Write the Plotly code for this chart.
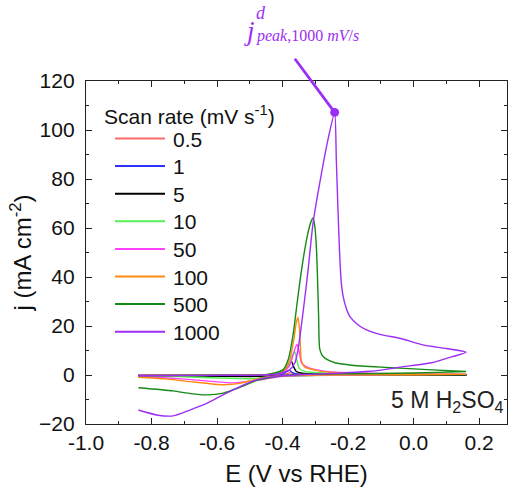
import numpy as np
import plotly.graph_objects as go

# ---------------- data ----------------
scan_rates = ["0.5", "1", "5", "10", "50", "100", "500", "1000"]
colors = ["#FF6B6B", "#3030FF", "#000000", "#55EE55", "#FF40FF", "#FF8A10", "#168A16", "#9D2EF5"]

E_05 = [-0.84, -0.6, -0.42, -0.39, -0.378, -0.37, -0.36, -0.3, 0.16, 0.16, -0.3, -0.84]
j_05 = [0.0, 0.0, 0.05, 0.4, 1.0, 0.7, 0.3, 0.1, 0.05, 0.0, 0.0, -0.05]

E_1 = [-0.84, -0.6, -0.42, -0.395, -0.385, -0.378, -0.37, -0.355, -0.3, 0.16, 0.16, -0.3, -0.45, -0.84]
j_1 = [0.0, 0.0, 0.1, 0.8, 1.6, 1.9, 1.0, 0.4, 0.2, 0.05, 0.0, 0.0, -0.2, -0.1]

E_5 = [-0.84, -0.6, -0.45, -0.4, -0.385, -0.373, -0.365, -0.358, -0.34, -0.3, 0.0, 0.16,
       0.16, -0.2, -0.4, -0.5, -0.65, -0.84]
j_5 = [-0.1, -0.05, 0.1, 1.2, 3.5, 5.5, 3.0, 1.4, 0.7, 0.4, 0.1, 0.1,
       0.0, -0.05, -0.3, -0.6, -0.4, -0.2]

E_10 = [-0.84, -0.6, -0.45, -0.395, -0.38, -0.37, -0.363, -0.356, -0.35, -0.335, -0.3, 0.0, 0.16,
        0.16, -0.2, -0.42, -0.5, -0.6, -0.72, -0.84]
j_10 = [-0.1, -0.05, 0.1, 1.5, 4.5, 8.0, 9.5, 6.0, 2.8, 1.6, 1.0, 0.3, 0.2,
        0.2, 0.0, -0.6, -1.5, -1.2, -0.6, -0.3]

E_50 = [-0.84, -0.6, -0.45, -0.40, -0.378, -0.365, -0.356, -0.35, -0.346, -0.342, -0.33, -0.317, -0.25, 0.0, 0.16,
        0.16, -0.2, -0.40, -0.47, -0.551, -0.65, -0.75, -0.84]
j_50 = [-0.1, -0.05, 0.1, 0.9, 4.0, 9.5, 12.6, 10.0, 7.0, 4.8, 3.5, 2.8, 1.2, 0.4, 0.3,
        0.3, 0.0, -0.5, -2.0, -3.2, -2.2, -1.2, -0.6]

E_100 = [-0.84, -0.6, -0.45, -0.40, -0.378, -0.365, -0.358, -0.353, -0.348, -0.345, -0.343, -0.332, -0.3, -0.277, -0.2, -0.073, 0.16,
         0.16, 0.0, -0.3, -0.42, -0.48, -0.53, -0.582, -0.683, -0.76, -0.84]
j_100 = [-0.2, -0.1, 0.1, 1.0, 6.2, 15.0, 21.5, 23.6, 18.0, 10.0, 6.2, 3.2, 2.0, 1.4, 0.8, 0.4, 0.3,
         0.3, 0.1, 0.0, -0.4, -1.7, -3.4, -4.0, -2.7, -1.6, -0.9]

E_500 = [-0.84, -0.6, -0.45, -0.399, -0.383, -0.368, -0.355, -0.342, -0.325, -0.312, -0.307, -0.301, -0.296,
         -0.293, -0.29, -0.287, -0.28, -0.271, -0.24, -0.195, -0.1, -0.043, 0.16,
         0.16, 0.0, -0.2, -0.35, -0.43, -0.48, -0.53, -0.581, -0.632, -0.68, -0.734, -0.84]
j_500 = [-0.3, -0.1, 0.1, 2.1, 6.2, 16.4, 30.0, 43.0, 56.5, 63.0, 64.1, 60.0, 50.0,
         38.0, 24.0, 11.0, 8.2, 6.9, 5.0, 4.1, 3.2, 2.8, 1.4,
         1.4, 0.8, 0.5, 0.2, -0.8, -2.3, -5.0, -7.4, -8.1, -7.6, -6.5, -5.2]

E_1000 = [-0.84, -0.7, -0.6, -0.5, -0.42, -0.38, -0.363, -0.353, -0.338, -0.322, -0.307, -0.281, -0.26, -0.241,
          -0.236, -0.231, -0.226, -0.221, -0.215, -0.205, -0.195, -0.17, -0.144, -0.1, -0.043, 0.028, 0.1, 0.16,
          0.1, 0.059, -0.043, -0.094, -0.144, -0.22, -0.287, -0.35, -0.4, -0.43, -0.48, -0.53, -0.582,
          -0.63, -0.683, -0.734, -0.785, -0.84]
j_1000 = [-0.3, -0.2, -0.1, -0.1, 0.3, 2.0, 4.8, 10.3, 25.0, 43.0, 62.0, 82.5, 97.0, 107.2,
          88.0, 68.0, 50.0, 38.0, 32.0, 27.0, 23.9, 20.5, 18.4, 16.5, 15.0, 12.3, 10.8, 9.3,
          6.8, 5.1, 3.2, 2.1, 1.4, 0.8, 0.45, 0.1, -0.3, -0.65, -2.0, -4.7, -8.1,
          -11.5, -14.3, -16.7, -16.3, -14.3]

E_data = [E_05, E_1, E_5, E_10, E_50, E_100, E_500, E_1000]
j_data = [j_05, j_1, j_5, j_10, j_50, j_100, j_500, j_1000]

x_ticks = [-1.0, -0.8, -0.6, -0.4, -0.2, 0.0, 0.2]
x_ticklabels = ["-1.0", "-0.8", "-0.6", "-0.4", "-0.2", "0.0", "0.2"]
y_ticks = [-20, 0, 20, 40, 60, 80, 100, 120]

# ---------------- layout helpers ----------------
W, H = 512, 492
L, R, T, B = 86, 5, 81, 68
PW, PH = W - L - R, H - T - B


def px_x(px):
    return (px - L) / PW


def px_y(py):
    return (H - B - py) / PH


FONT = "Arial, Liberation Sans, sans-serif"
TXT = "#111111"

fig = go.Figure()
for name, E, j, c in zip(scan_rates, E_data, j_data, colors):
    fig.add_trace(go.Scatter(x=E, y=j, mode="lines", name=name, showlegend=False,
                             line=dict(color=c, width=1.4, shape="spline", smoothing=0.6)))

axis_common = dict(showline=True, linecolor="#222222", linewidth=1.3, mirror="ticks",
                   ticks="inside", ticklen=6, tickwidth=1.2, tickcolor="#222222",
                   showgrid=False, zeroline=False,
                   tickfont=dict(family=FONT, size=21, color=TXT))

fig.update_xaxes(range=[-1.0, 0.285], tickvals=x_ticks, ticktext=x_ticklabels,
                 minor=dict(ticks="inside", ticklen=3, tickwidth=1.1, dtick=0.1, tick0=-1.0,
                            tickcolor="#222222", showgrid=False),
                 title=dict(text="E (V vs RHE)", font=dict(family=FONT, size=24, color=TXT), standoff=11),
                 ticklabelstandoff=0,
                 **axis_common)
fig.update_yaxes(range=[-20, 120], tickvals=y_ticks,
                 minor=dict(ticks="inside", ticklen=3, tickwidth=1.1, dtick=10, tick0=-20,
                            tickcolor="#222222", showgrid=False),
                 title=dict(text="j (mA cm<sup>-2</sup>)", font=dict(family=FONT, size=24, color=TXT), standoff=0),
                 ticklabelstandoff=6,
                 **axis_common)

# ---------------- manual legend ----------------
fig.add_annotation(x=px_x(102), y=px_y(115), xref="paper", yref="paper",
                   text="Scan rate (mV s<sup>-1</sup>)", showarrow=False,
                   xanchor="left", yanchor="middle",
                   font=dict(family=FONT, size=21, color=TXT))
for i, (name, c) in enumerate(zip(scan_rates, colors)):
    yc = 138.5 + 27.6 * i
    fig.add_shape(type="line", xref="paper", yref="paper",
                  x0=px_x(115), x1=px_x(165), y0=px_y(yc), y1=px_y(yc),
                  line=dict(color=c, width=2))
    fig.add_annotation(x=px_x(171), y=px_y(yc + 0.5), xref="paper", yref="paper",
                       text=name, showarrow=False, xanchor="left", yanchor="middle",
                       font=dict(family=FONT, size=21, color=TXT))

# ---------------- peak marker + pointer ----------------
imax = int(np.argmax(j_1000))
peak_E, peak_j = E_1000[imax], j_1000[imax]
purple = colors[-1]
fig.add_annotation(x=peak_E, y=peak_j, xref="x", yref="y", axref="x", ayref="y",
                   ax=-0.366, ay=129.7, text="", showarrow=True,
                   arrowhead=6, arrowsize=0.8, arrowwidth=2.8, arrowcolor=purple,
                   standoff=0, startstandoff=0)

ann_font = "Liberation Serif, DejaVu Serif, serif"
fig.add_annotation(x=px_x(249), y=px_y(31), xref="paper", yref="paper",
                   text="<i>j</i>", showarrow=False, xanchor="center", yanchor="middle",
                   font=dict(family=ann_font, size=27, color=purple))
fig.add_annotation(x=px_x(254), y=px_y(13), xref="paper", yref="paper",
                   text="<i>d</i>", showarrow=False, xanchor="left", yanchor="middle",
                   font=dict(family=ann_font, size=18, color=purple))
fig.add_annotation(x=px_x(254), y=px_y(36), xref="paper", yref="paper",
                   text="<i>peak</i>,1000 <i>mV</i>/<i>s</i>", showarrow=False,
                   xanchor="left", yanchor="middle",
                   font=dict(family=ann_font, size=16, color=purple))

fig.add_annotation(x=px_x(506), y=px_y(401), xref="paper", yref="paper",
                   text="5 M H<sub>2</sub>SO<sub>4</sub>", showarrow=False,
                   xanchor="right", yanchor="middle",
                   font=dict(family=FONT, size=23, color="#222222"))

fig.update_layout(
    width=W, height=H,
    margin=dict(l=L, r=R, t=T, b=B),
    paper_bgcolor="white", plot_bgcolor="white",
    showlegend=False,
)

fig.write_html("out.html")
